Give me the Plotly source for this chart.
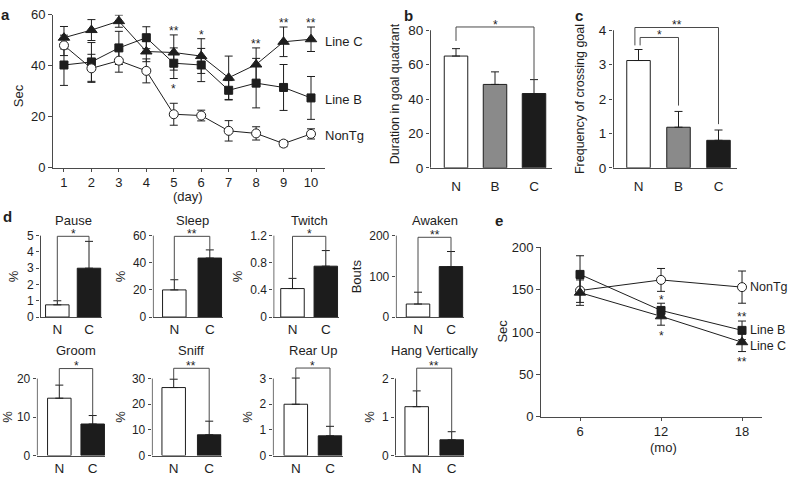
import plotly.graph_objects as go

# ---------------- data ----------------
# Panel a: time (Sec) per training day
days = [1, 2, 3, 4, 5, 6, 7, 8, 9, 10]
a_nontg = [48.0, 39.0, 42.0, 38.0, 21.0, 20.5, 14.5, 13.5, 9.5, 13.3]
a_nontg_err = [4.0, 5.5, 4.5, 4.7, 4.3, 2.1, 4.0, 2.6, 1.2, 2.0]
a_lineb = [40.3, 41.5, 47.0, 51.0, 41.0, 40.3, 30.4, 33.2, 31.5, 27.4]
a_lineb_err = [8.0, 7.6, 6.5, 4.3, 6.0, 6.5, 3.8, 9.7, 9.0, 8.4]
a_linec = [51.0, 54.0, 57.5, 45.6, 45.2, 43.8, 35.3, 40.5, 49.4, 50.4]
a_linec_err = [4.4, 4.1, 2.4, 4.0, 6.9, 6.8, 8.5, 6.5, 5.8, 4.8]
a_sig_day = [5, 5, 6, 8, 9, 10]
a_sig_text = ['**', '*', '*', '**', '**', '**']
a_sig_line = ['C', 'B', 'C', 'C', 'C', 'C']
a_sig_side = ['above', 'below', 'above', 'above', 'above', 'above']
a_ticks_y = [0, 20, 40, 60]

# Panels b and c
bc_groups = ['N', 'B', 'C']
b_vals = [65.0, 48.5, 43.2]
b_err = [4.3, 7.3, 8.1]
b_ticks = [0, 20, 40, 60, 80]
b_sig_pairs = [(0, 2)]
b_sig_text = ['*']
b_sig_level = [81.9]

c_vals = [3.12, 1.18, 0.80]
c_err = [0.32, 0.46, 0.30]
c_ticks = [0, 1, 2, 3, 4]
c_sig_pairs = [(0, 2), (0, 1)]
c_sig_text = ['**', '*']
c_sig_level = [4.08, 3.79]

# Panel d
d_groups = ['N', 'C']
d_titles = ['Pause', 'Sleep', 'Twitch', 'Awaken', 'Groom', 'Sniff', 'Rear Up', 'Hang Vertically']
d_ytitles = ['%', '%', '%', 'Bouts', '%', '%', '%', '%']
d_n = [0.75, 20.0, 0.42, 32.0, 14.9, 26.5, 2.0, 1.27]
d_n_err = [0.25, 7.5, 0.15, 29.0, 3.4, 3.25, 1.02, 0.41]
d_c = [3.0, 43.5, 0.75, 124.0, 8.2, 8.1, 0.77, 0.41]
d_c_err = [1.65, 6.0, 0.23, 37.0, 2.2, 5.3, 0.37, 0.21]
d_tick_max = [5, 60, 1.2, 200, 20, 30, 3, 2]
d_tick_step = [1, 20, 0.4, 100, 10, 10, 1, 1]
d_sig_text = ['*', '**', '*', '**', '*', '**', '*', '**']
d_sig_level = [4.96, 59.5, 1.19, 196.0, 22.6, 34.0, 3.41, 2.27]

# Panel e
months = [6, 12, 18]
e_nontg = [149.0, 161.5, 153.0]
e_nontg_err = [14.0, 13.5, 19.0]
e_lineb = [168.0, 125.5, 102.0]
e_lineb_err = [22.0, 8.5, 11.0]
e_linec = [146.5, 118.6, 88.0]
e_linec_err = [15.0, 10.5, 11.0]
e_sig_month = [12, 12, 18, 18]
e_sig_text = ['*', '*', '**', '**']
e_sig_line = ['B', 'C', 'B', 'C']
e_sig_side = ['above', 'below', 'above', 'below']
e_ticks_y = [0, 50, 100, 150, 200]

# ---------------- style / layout ----------------
W, H = 788, 482
FONT = 'Liberation Sans, Arial, Helvetica, sans-serif'
INK = '#1e1e1e'
AXIS = '#4a4a4a'
BAR_COLORS = {'N': 'white', 'B': '#8a8a8a', 'C': '#1c1c1c'}


def px_x(p):
    return p / W


def px_y(p):
    return 1 - p / H


fig = go.Figure()
layout = dict(width=W, height=H, margin=dict(l=0, r=0, t=0, b=0),
              paper_bgcolor='white', plot_bgcolor='white', showlegend=False,
              font=dict(family=FONT, size=13, color=INK))
annotations = []
shapes = []


def ids(i):
    return ('x' if i == 1 else f'x{i}', 'y' if i == 1 else f'y{i}')


def lkeys(i):
    return ('xaxis' if i == 1 else f'xaxis{i}', 'yaxis' if i == 1 else f'yaxis{i}')


def base_axis(**kw):
    d = dict(showgrid=False, zeroline=False, showline=True, linecolor=AXIS, linewidth=1,
             ticks='outside', ticklen=4, tickcolor=AXIS, tickwidth=1,
             tickfont=dict(size=13, color=INK, family=FONT), fixedrange=True)
    d.update(kw)
    return d


def text(x, y, s, xref='paper', yref='paper', size=13, angle=0, bold=False,
         xanchor='center', yanchor='middle', xshift=0, yshift=0):
    annotations.append(dict(x=x, y=y, xref=xref, yref=yref, text=f'<b>{s}</b>' if bold else s,
                            showarrow=False, textangle=angle, xanchor=xanchor, yanchor=yanchor,
                            xshift=xshift, yshift=yshift,
                            font=dict(size=size, color=INK, family=FONT)))


STYLE = {
    'NonTg': dict(symbol='circle', size=9, color='white'),
    'B': dict(symbol='square', size=8, color=INK),
    'C': dict(symbol='triangle-up', size=10, color=INK),
}


def line_trace(xs, ys, err, key, i):
    xa, ya = ids(i)
    st = STYLE[key]
    return go.Scatter(x=xs, y=ys, xaxis=xa, yaxis=ya, mode='lines+markers',
                      line=dict(color=INK, width=1),
                      marker=dict(symbol=st['symbol'], size=st['size'], color=st['color'],
                                  line=dict(color=INK, width=1)),
                      error_y=dict(type='data', array=err, visible=True, width=4,
                                   thickness=1, color=INK),
                      cliponaxis=False, hoverinfo='skip')


STAR_GAP = 7
STAR_CORR = 3.4  # asterisk glyph sits high in its text box


def add_stars(i, xs_sig, texts, lines, sides, series):
    xa, ya = ids(i)
    for x, t, ln, side in zip(xs_sig, texts, lines, sides):
        xs, ys, es = series[ln]
        k = xs.index(x)
        if side == 'above':
            y = ys[k] + es[k]
            sh = STAR_GAP - STAR_CORR
        else:
            y = ys[k] - es[k]
            sh = -STAR_GAP - STAR_CORR
        text(x, y, t, xref=xa, yref=ya, size=12, yshift=sh)


# ---------- Panel a ----------
ia = 1
fig.add_trace(line_trace(days, a_lineb, a_lineb_err, 'B', ia))
fig.add_trace(line_trace(days, a_linec, a_linec_err, 'C', ia))
fig.add_trace(line_trace(days, a_nontg, a_nontg_err, 'NonTg', ia))
xk, yk = lkeys(ia)
layout[xk] = base_axis(domain=[px_x(53), px_x(325)], range=[0.6, 10.51], tickvals=days,
                       anchor='y', ticklen=3)
layout[yk] = base_axis(domain=[px_y(166), px_y(8)], range=[0, 60], tickvals=a_ticks_y,
                       anchor='x')
a_series = {'NonTg': (days, a_nontg, a_nontg_err), 'B': (days, a_lineb, a_lineb_err),
            'C': (days, a_linec, a_linec_err)}
add_stars(ia, a_sig_day, a_sig_text, a_sig_line, a_sig_side, a_series)
for name, ys in [('Line C', a_linec), ('Line B', a_lineb), ('NonTg', a_nontg)]:
    text(days[-1], ys[-1], name, xref='x', yref='y', xanchor='left', xshift=12, yshift=-2)
text(px_x(18), px_y(92), 'Sec', angle=-90)
text(px_x(188), px_y(196), '(day)')
text(px_x(5), px_y(8), 'a', size=15, bold=True)


# ---------- bar panels helper ----------
def bar_panel(i, groups, vals, errs, ticks, dom_px, ypx, ext_top_px, tick_size, xlabel_len,
              centers_px=None):
    """dom_px=(axis_start, axis_end); ypx=(zero_px, toptick_px)."""
    xa, ya = ids(i)
    xk, yk = lkeys(i)
    a0, a1 = dom_px
    c0, c1 = centers_px
    spacing = (c1 - c0) / (len(groups) - 1)
    r0 = -(c0 - a0) / spacing
    r1 = (len(groups) - 1) + (a1 - c1) / spacing
    xs = list(range(len(groups)))
    zero_px, top_px = ypx
    tmax = ticks[-1]
    ymax = tmax * (zero_px - ext_top_px) / (zero_px - top_px)
    fig.add_trace(go.Bar(x=xs, y=vals, xaxis=xa, yaxis=ya, width=23.5 / spacing,
                         marker=dict(color=[BAR_COLORS[g] for g in groups],
                                     line=dict(color=INK, width=1)),
                         error_y=dict(type='data', array=errs, arrayminus=[0] * len(errs),
                                      symmetric=False, visible=True, width=4, thickness=1,
                                      color=INK),
                         hoverinfo='skip'))
    layout[xk] = base_axis(domain=[px_x(a0), px_x(a1)], range=[r0, r1], tickvals=xs,
                           ticktext=groups, ticks='outside', ticklen=xlabel_len,
                           tickcolor='rgba(0,0,0,0)', anchor=ya,
                           tickfont=dict(size=13.5, color=INK, family=FONT))
    layout[yk] = base_axis(domain=[px_y(zero_px), px_y(ext_top_px)], range=[0, ymax],
                           tickvals=ticks, showline=False, ticklen=3, anchor=xa,
                           tickfont=dict(size=tick_size, color=INK, family=FONT))
    eps = (r1 - r0) * 0.5 / (a1 - a0)
    shapes.append(dict(type='line', xref=xa, yref=ya, x0=r0 + eps, x1=r0 + eps, y0=0, y1=tmax,
                       line=dict(color=AXIS, width=1)))
    return xa, ya


def bracket(xa, ya, xl, xr, level, yl_end, yr_end, s):
    shapes.append(dict(type='path', xref=xa, yref=ya,
                       path=f'M {xl},{yl_end} L {xl},{level} L {xr},{level} L {xr},{yr_end}',
                       line=dict(color=AXIS, width=1)))
    text((xl + xr) / 2, level, s, xref=xa, yref=ya, size=12, yshift=5.5 - STAR_CORR)


# ---------- Panel b ----------
xa, ya = bar_panel(2, bc_groups, b_vals, b_err, b_ticks, (430, 552), (166, 24), 6, 13.5, 6,
                   centers_px=(456, 534))
b_left_gap = 4.5
for (l, r), s, lev in zip(b_sig_pairs, b_sig_text, b_sig_level):
    bracket(xa, ya, l, r, lev, b_vals[l] + b_err[l] + b_left_gap, b_vals[r] + b_err[r], s)
text(px_x(395), px_y(90), 'Duration in goal quadrant', size=12.5, angle=-90)
text(px_x(408), px_y(9), 'b', size=15, bold=True)

# ---------- Panel c ----------
xa, ya = bar_panel(3, bc_groups, c_vals, c_err, c_ticks, (613, 737), (166, 24), 6, 13.5, 6,
                   centers_px=(638.5, 718.5))
c_left_off = [-0.09, 0.04]
for (l, r), s, lev, off in zip(c_sig_pairs, c_sig_text, c_sig_level, c_left_off):
    bracket(xa, ya, l + off, r, lev, c_vals[l] + c_err[l] + 0.12, c_vals[r] + c_err[r] + 0.17, s)
text(px_x(580), px_y(95), 'Frequency of crossing goal', size=12.5, angle=-90)
text(px_x(579), px_y(9), 'c', size=15, bold=True)

# ---------- Panel d ----------
d_axis_px = [(40, 57.3, 89, 101.7), (152.7, 174.3, 209.8, 222.7), (273.3, 292.5, 325.8, 338.5),
             (395.7, 418, 451, 463.5), (36.7, 59.3, 92.7, 105), (151.7, 173.7, 209.2, 221.5),
             (272.7, 295.8, 330, 342.5), (395, 416.7, 451.7, 464)]
d_ytitle_px = [13, 120, 237, 356, 8, 121, 248, 370]
for k in range(8):
    i = 4 + k
    top_row = k < 4
    zero_px, top_px, ext_px = (320, 236, 225) if top_row else (463, 383.5, 364)
    n_steps = int(round(d_tick_max[k] / d_tick_step[k]))
    ticks = [round(j * d_tick_step[k], 6) for j in range(n_steps + 1)]
    a0, c0, c1, a1 = d_axis_px[k]
    xa, ya = bar_panel(i, d_groups, [d_n[k], d_c[k]], [d_n_err[k], d_c_err[k]], ticks,
                       (a0, a1), (zero_px, top_px), ext_px, 12, 0, centers_px=(c0, c1))
    bracket(xa, ya, 0, 1, d_sig_level[k], d_n[k] + d_n_err[k], d_c[k] + d_c_err[k],
            d_sig_text[k])
    text(0.5, px_y(220 if top_row else 355), d_titles[k], xref=xa, yref='paper', size=13)
    text(px_x(d_ytitle_px[k]), px_y(278 if top_row else 423), d_ytitles[k], size=13, angle=-90)
text(px_x(8), px_y(216), 'd', size=15, bold=True)

# ---------- Panel e ----------
ie = 12
fig.add_trace(line_trace(months, e_nontg, e_nontg_err, 'NonTg', ie))
fig.add_trace(line_trace(months, e_lineb, e_lineb_err, 'B', ie))
fig.add_trace(line_trace(months, e_linec, e_linec_err, 'C', ie))
xk, yk = lkeys(ie)
xa, ya = ids(ie)
layout[xk] = base_axis(domain=[px_x(541), px_x(762)], range=[3.11, 19.48], tickvals=months,
                       anchor=ya, ticklen=3)
layout[yk] = base_axis(domain=[px_y(423), px_y(248)], range=[0, 200], tickvals=e_ticks_y,
                       anchor=xa)
e_series = {'NonTg': (months, e_nontg, e_nontg_err), 'B': (months, e_lineb, e_lineb_err),
            'C': (months, e_linec, e_linec_err)}
add_stars(ie, e_sig_month, e_sig_text, e_sig_line, e_sig_side, e_series)
for name, ys, sh in [('NonTg', e_nontg, 0), ('Line B', e_lineb, 0), ('Line C', e_linec, -4)]:
    text(months[-1], ys[-1], name, xref=xa, yref=ya, xanchor='left', xshift=6, yshift=sh,
         size=12.5)
text(px_x(503), px_y(335), 'Sec', angle=-90)
text(px_x(663), px_y(455), '(mo)')
text(px_x(499), px_y(220), 'e', size=15, bold=True)

layout['annotations'] = annotations
layout['shapes'] = shapes
fig.update_layout(**layout)
fig.write_html('out.html',
               config={'displayModeBar': False, 'staticPlot': True},
               post_script="document.body.style.margin='0px';"
                           "document.body.style.overflow='hidden';")
